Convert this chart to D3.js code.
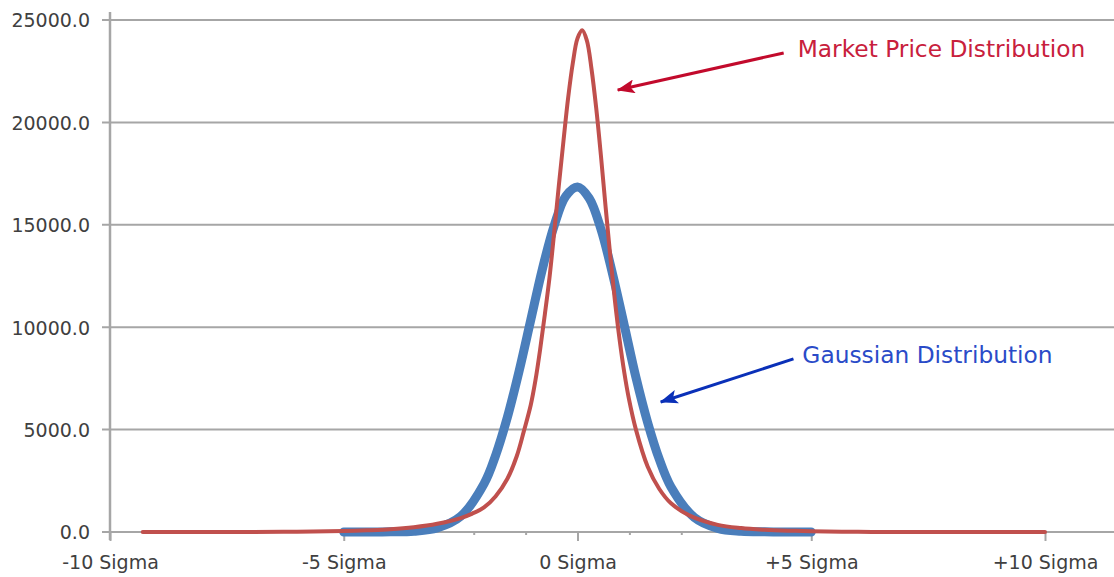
<!DOCTYPE html>
<html>
  <head>
    <meta charset="utf-8">
    <title>Market Price vs Gaussian Distribution</title>
    <script src="https://d3js.org/d3.v7.min.js"></script>
    <style>
      body {
        margin: 0;
        background: #fff;
      }

      .grid line {
        stroke: #a6a6a6;
        stroke-width: 2;
      }

      .axis-y text, .axis-x text {
        font-family: "DejaVu Sans", Verdana, sans-serif;
        font-size: 19px;
        fill: #404040;
      }

      .note {
        font-family: "DejaVu Sans", Verdana, sans-serif;
        font-size: 23.3px;
      }
    </style>
  </head>
  <body>
    <svg width="1114" height="577"></svg>
    <script>
      // x positions are in sigma units, values are counts
      var yTicks = [0, 5000, 10000, 15000, 20000, 25000];
      var xTickPos = [-10, -5, -2.22, -1.11, 0, 1.11, 2.22, 5, 10];
      var xTickLabels = ["-10 Sigma", "-5 Sigma", "", "", "0 Sigma", "", "", "+5 Sigma", "+10 Sigma"];

      var marketX = [-9.3, -8, -7, -6, -5, -4.5, -4, -3.5, -3, -2.5, -2.25, -2, -1.75, -1.5, -1.3, -1.15,
                     -1, -0.9, -0.8, -0.7, -0.6, -0.5, -0.4, -0.3, -0.2, -0.1, 0, 0.1,
                     0.2, 0.3, 0.4, 0.5, 0.6, 0.7, 0.8, 0.9, 1, 1.1, 1.25, 1.5, 1.75, 2, 2.4,
                     3, 3.5, 4, 4.5, 5, 6, 7, 8, 9, 10];
      var marketY = [0, 0, 0, 15, 45, 80, 130, 230, 400, 680, 900, 1200, 1750, 2600, 3700, 4900,
                     6200, 7400, 8900, 10600, 12400, 14600, 16900, 19100, 21200, 22900, 24100, 24500,
                     24000, 22600, 20700, 18400, 15900, 13500, 11300, 9400, 7800, 6500, 5000, 3200, 2100, 1400, 800,
                     350, 190, 110, 65, 40, 10, 0, 0, 0, 0];

      var gaussX = [-5, -4.5, -4, -3.5, -3, -2.5, -2, -1.75, -1.5, -1.25, -1, -0.75, -0.5, -0.25, 0,
                    0.25, 0.5, 0.75, 1, 1.25, 1.5, 1.75, 2, 2.5, 3, 3.5, 4, 4.5, 5];
      var gaussY = [0, 0, 10, 40, 200, 760, 2350, 3750, 5600, 7850, 10350, 12850, 14950, 16400, 16850,
                    16300, 14800, 12600, 10100, 7550, 5350, 3550, 2200, 710, 180, 40, 10, 0, 0];

      // annotations, placed in data units
      var noteLabels = ["Market Price Distribution", "Gaussian Distribution"];
      var noteText = [[4.71, 23200], [4.81, 8250]];
      var noteArrows = [[4.41, 23390, 0.86, 21580], [4.62, 8450, 1.78, 6350]];
      var noteTextColors = ["#c8203c", "#2a4bc8"];
      var noteArrowColors = ["#c20a2c", "#0a30b8"];

      var svg = d3.select("svg");
      var plotLeft = 110, plotRight = 1045, plotTop = 20, plotBottom = 532, lineEnd = 1114;

      var x = d3.scaleLinear().domain([-10, 10]).range([plotLeft, plotRight]);
      var y = d3.scaleLinear().domain([0, 25000]).range([plotBottom, plotTop]);

      // horizontal grid lines (they run past the axis as tick marks)
      svg.append("g")
          .attr("class", "grid")
        .selectAll("line")
        .data(yTicks)
        .enter().append("line")
          .attr("x1", plotLeft - 8)
          .attr("x2", lineEnd)
          .attr("y1", function(d) { return y(d); })
          .attr("y2", function(d) { return y(d); });

      // y axis
      var yAxis = svg.append("g")
          .attr("class", "axis-y")
          .attr("transform", "translate(" + plotLeft + ",0)")
          .call(d3.axisLeft(y).tickValues(yTicks).tickSize(0).tickPadding(20)
                .tickFormat(function(d) { return d3.format(".1f")(d); }));
      yAxis.select(".domain").remove();
      yAxis.selectAll("text").attr("dy", "0.36em");

      svg.append("line")
          .attr("x1", plotLeft).attr("x2", plotLeft)
          .attr("y1", plotTop - 8).attr("y2", plotBottom + 8)
          .attr("stroke", "#a6a6a6").attr("stroke-width", 2.5);

      // x axis
      var xAxis = svg.append("g")
          .attr("class", "axis-x")
          .attr("transform", "translate(0," + plotBottom + ")")
          .call(d3.axisBottom(x).tickValues(xTickPos).tickSize(0).tickPadding(24)
                .tickFormat(function(d, i) { return xTickLabels[i]; }));
      xAxis.select(".domain").remove();
      xAxis.selectAll(".tick line")
          .attr("y2", function(d, i) { return xTickLabels[i] ? 9 : 3; })
          .attr("stroke", "#a6a6a6")
          .attr("stroke-width", 2);

      // curves
      var line = d3.line()
          .x(function(d) { return x(d[0]); })
          .y(function(d) { return y(d[1]); })
          .curve(d3.curveCatmullRom.alpha(0.5));

      svg.append("path")
          .datum(d3.zip(gaussX, gaussY))
          .attr("fill", "none")
          .attr("stroke", "#4a7ebb")
          .attr("stroke-width", 9)
          .attr("stroke-linecap", "round")
          .attr("stroke-linejoin", "round")
          .attr("d", line);

      svg.append("path")
          .datum(d3.zip(marketX, marketY))
          .attr("fill", "none")
          .attr("stroke", "#c0504d")
          .attr("stroke-width", 4)
          .attr("stroke-linecap", "round")
          .attr("stroke-linejoin", "round")
          .attr("d", line);

      // arrow heads
      var defs = svg.append("defs");
      noteArrowColors.forEach(function(c, i) {
        defs.append("marker")
            .attr("id", "head" + i)
            .attr("markerUnits", "userSpaceOnUse")
            .attr("viewBox", "0 -7 18 14")
            .attr("refX", 17)
            .attr("refY", 0)
            .attr("markerWidth", 18)
            .attr("markerHeight", 14)
            .attr("orient", "auto")
          .append("path")
            .attr("d", "M0,-7L18,0L0,7L4,0Z")
            .attr("fill", c);
      });

      noteArrows.forEach(function(a, i) {
        svg.append("line")
            .attr("x1", x(a[0])).attr("y1", y(a[1]))
            .attr("x2", x(a[2])).attr("y2", y(a[3]))
            .attr("stroke", noteArrowColors[i])
            .attr("stroke-width", 3)
            .attr("marker-end", "url(#head" + i + ")");
      });

      noteLabels.forEach(function(t, i) {
        svg.append("text")
            .attr("class", "note")
            .attr("x", x(noteText[i][0]))
            .attr("y", y(noteText[i][1]))
            .attr("fill", noteTextColors[i])
            .text(t);
      });
    </script>
  </body>
</html>
